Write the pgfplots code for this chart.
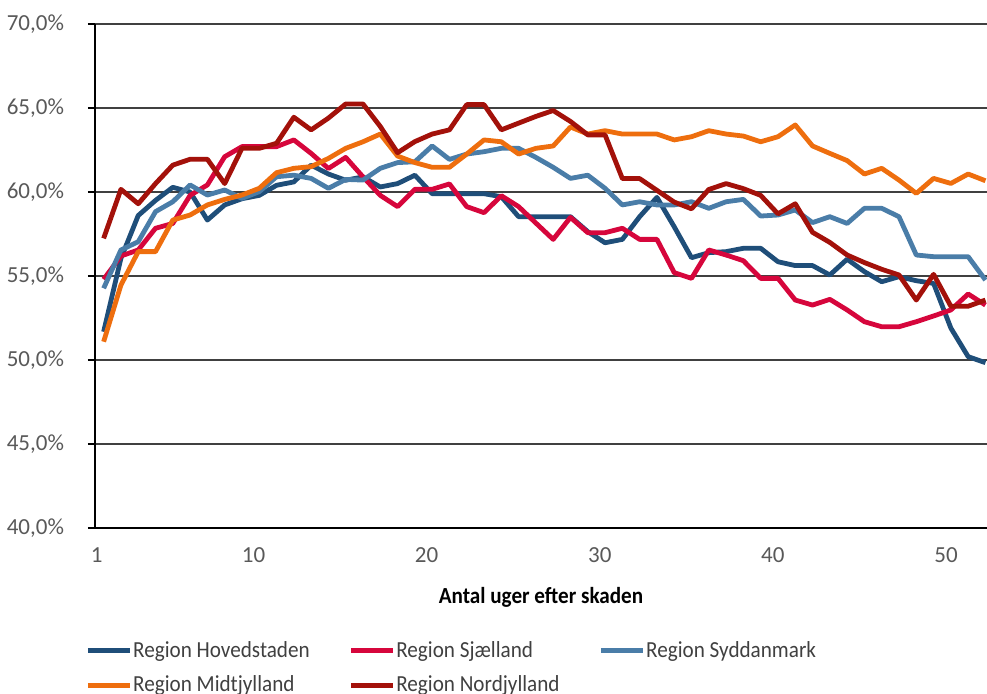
\documentclass[border=0pt]{standalone}
\usepackage{pgfplots}
\pgfplotsset{compat=1.18}
\usepackage{fontspec}
\setmainfont{Carlito}
\newfontfamily\condfont[FakeStretch=0.92]{Carlito}
\definecolor{cH}{HTML}{1F4E79}
\definecolor{cS}{HTML}{D6063C}
\definecolor{cSy}{HTML}{4A7DA8}
\definecolor{cM}{HTML}{EE6E0E}
\definecolor{cN}{HTML}{A3110A}
\definecolor{tickgray}{HTML}{595959}
\definecolor{gridc}{HTML}{404040}
\begin{document}
\begin{tikzpicture}
\begin{axis}[
  name=ax,
  scale only axis, width=446pt, height=252pt,
  xmin=0.5, xmax=52.09, ymin=40, ymax=70,
  axis lines*=left,
  axis line style={line width=1pt, black},
  ytick={40,45,50,55,60,65,70},
  yticklabels={{40,0\%},{45,0\%},{50,0\%},{55,0\%},{60,0\%},{65,0\%},{70,0\%}},
  yticklabel style={font=\fontsize{11.5}{13}\selectfont, text=tickgray, xshift=-8.5pt},
  ytick style={line width=0.8pt, black},
  ymajorgrids, major grid style={line width=1pt, gridc},
  tick align=outside, major tick length=3.5pt,
  xtick={0.6,9.67,19.68,29.7,39.7,49.72},
  xticklabels={1,10,20,30,40,50},
  x tick style={draw=none},
  xticklabel style={font=\fontsize{11.5}{13}\selectfont, text=tickgray, yshift=-3pt},
  extra x ticks={0.5,1.5,...,52},
  extra x tick labels={},
  extra x tick style={tick style={draw=black, line width=0.8pt}, grid=none},
  xlabel={Antal uger efter skaden},
  every axis x label/.style={at={(axis description cs:0.5,0)}, anchor=center, yshift=-34.5pt, font=\condfont\fontsize{11.5}{14}\selectfont\bfseries},
  legend columns=3,
  legend style={at={(axis description cs:0,0)}, anchor=north west, xshift=-5pt, yshift=-56pt,
    draw=none, fill=none, inner sep=0pt, row sep=7pt,
    font=\condfont\fontsize{11.5}{13}\selectfont, text=gridc,
    nodes={inner sep=0.4pt},
    /tikz/every even column/.append style={column sep=19pt}},
  legend cell align=left,
  legend image code/.code={\draw[#1, line width=2.5pt, line cap=butt] (0pt,0pt) -- (21pt,0pt);},
  every axis plot/.append style={line width=2.4pt, line join=round, no markers},
]
\addplot[cH] coordinates {
(1,51.68)(2,56.05)(3,58.6)(4,59.5)(5,60.28)(6,60.0)(7,58.33)(8,59.23)(9,59.6)(10,59.8)
(11,60.4)(12,60.6)(13,61.6)(14,61.07)(15,60.7)(16,60.9)(17,60.3)(18,60.5)(19,61.0)(20,59.9)
(21,59.9)(22,59.9)(23,59.9)(24,59.72)(25,58.53)(26,58.53)(27,58.53)(28,58.53)(29,57.64)(30,56.98)
(31,57.18)(32,58.53)(33,59.68)(34,57.93)(35,56.09)(36,56.39)(37,56.45)(38,56.65)(39,56.65)(40,55.85)
(41,55.62)(42,55.62)(43,55.06)(44,56.0)(45,55.26)(46,54.66)(47,54.96)(48,54.72)(49,54.56)(50,51.9)
(51,50.2)(52,49.84)};
\addlegendentry{Region Hovedstaden}
\addplot[cS] coordinates {
(1,54.8)(2,56.19)(3,56.55)(4,57.84)(5,58.13)(6,59.8)(7,60.42)(8,62.1)(9,62.7)(10,62.7)
(11,62.7)(12,63.1)(13,62.3)(14,61.4)(15,62.06)(16,60.9)(17,59.8)(18,59.13)(19,60.16)(20,60.16)
(21,60.48)(22,59.13)(23,58.77)(24,59.78)(25,59.13)(26,58.15)(27,57.18)(28,58.49)(29,57.58)(30,57.58)
(31,57.84)(32,57.18)(33,57.18)(34,55.2)(35,54.86)(36,56.55)(37,56.25)(38,55.91)(39,54.86)(40,54.86)
(41,53.57)(42,53.27)(43,53.61)(44,52.98)(45,52.28)(46,51.98)(47,51.98)(48,52.28)(49,52.62)(50,52.98)
(51,53.93)(52,53.27)};
\addlegendentry{Region Sjælland}
\addplot[cSy] coordinates {
(1,54.27)(2,56.55)(3,57.04)(4,58.83)(5,59.42)(6,60.42)(7,59.82)(8,60.12)(9,59.62)(10,60.02)
(11,60.91)(12,61.0)(13,60.81)(14,60.22)(15,60.75)(16,60.71)(17,61.41)(18,61.75)(19,61.8)(20,62.74)
(21,61.94)(22,62.26)(23,62.4)(24,62.6)(25,62.6)(26,62.06)(27,61.47)(28,60.81)(29,61.0)(30,60.22)
(31,59.23)(32,59.42)(33,59.23)(34,59.23)(35,59.42)(36,59.03)(37,59.42)(38,59.56)(39,58.57)(40,58.63)
(41,58.93)(42,58.18)(43,58.53)(44,58.13)(45,59.03)(46,59.03)(47,58.53)(48,56.25)(49,56.15)(50,56.15)
(51,56.15)(52,54.76)};
\addlegendentry{Region Syddanmark}
\addplot[cM] coordinates {
(1,51.09)(2,54.46)(3,56.45)(4,56.45)(5,58.33)(6,58.63)(7,59.23)(8,59.56)(9,59.82)(10,60.22)
(11,61.15)(12,61.41)(13,61.51)(14,62.0)(15,62.6)(16,62.99)(17,63.45)(18,62.14)(19,61.75)(20,61.47)
(21,61.47)(22,62.26)(23,63.1)(24,62.99)(25,62.26)(26,62.6)(27,62.74)(28,63.87)(29,63.45)(30,63.65)
(31,63.45)(32,63.45)(33,63.45)(34,63.1)(35,63.29)(36,63.65)(37,63.45)(38,63.33)(39,62.99)(40,63.29)
(41,63.99)(42,62.74)(43,62.3)(44,61.87)(45,61.07)(46,61.41)(47,60.71)(48,59.92)(49,60.81)(50,60.51)
(51,61.07)(52,60.67)};
\addlegendentry{Region Midtjylland}
\addplot[cN] coordinates {
(1,57.24)(2,60.16)(3,59.3)(4,60.5)(5,61.6)(6,61.95)(7,61.95)(8,60.5)(9,62.6)(10,62.6)
(11,62.9)(12,64.45)(13,63.7)(14,64.4)(15,65.24)(16,65.24)(17,63.9)(18,62.34)(19,63.0)(20,63.45)
(21,63.7)(22,65.2)(23,65.2)(24,63.7)(25,64.1)(26,64.5)(27,64.85)(28,64.2)(29,63.4)(30,63.4)
(31,60.8)(32,60.8)(33,60.1)(34,59.4)(35,59.0)(36,60.15)(37,60.5)(38,60.2)(39,59.8)(40,58.7)
(41,59.3)(42,57.6)(43,57.0)(44,56.25)(45,55.8)(46,55.4)(47,55.06)(48,53.57)(49,55.1)(50,53.2)
(51,53.2)(52,53.57)};
\addlegendentry{Region Nordjylland}
\end{axis}
\pgfresetboundingbox
\path[use as bounding box] (-47.5pt,-82.5pt) rectangle (446pt,264pt);
\end{tikzpicture}
\end{document}
